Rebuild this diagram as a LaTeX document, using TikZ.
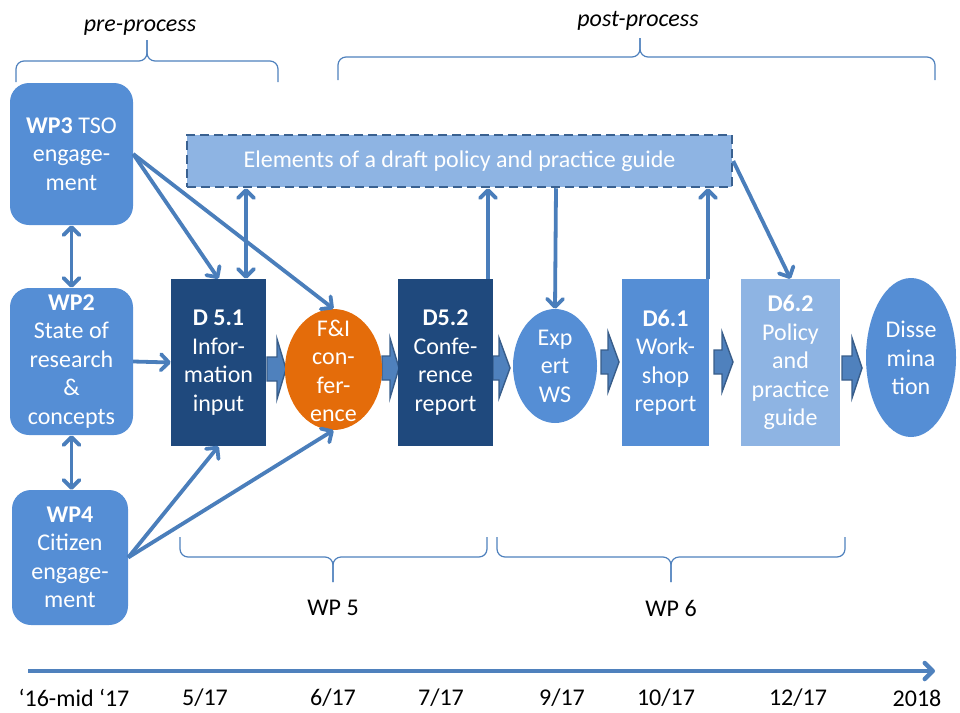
\documentclass[tikz,border=0pt]{standalone}
\usepackage{fontspec}
\setmainfont{Carlito}
\usetikzlibrary{shapes.geometric,arrows.meta,calc}
\definecolor{wpblue}{HTML}{558ED5}
\definecolor{darkblue}{HTML}{1F497D}
\definecolor{lightblue}{HTML}{8EB4E3}
\definecolor{fiorange}{HTML}{E46C0A}
\definecolor{conn}{HTML}{4A7EBB}
\definecolor{barrowfill}{HTML}{4F81BD}
\definecolor{barrowline}{HTML}{385D8A}
\definecolor{dashline}{HTML}{3A6190}
\newcommand\bfs{\fontsize{24}{28.5}\selectfont}
\newcommand\hbr[6]{%
  \draw[bracestyle] (#1,#4) -- (#1,#5) -- (#3,#5) -- (#3,#6);
  \draw[bracestyle] (#3,#6) -- (#3,#5) -- (#2,#5) -- (#2,#4);}
\newcommand\barrow[4]{%
  \filldraw[barrowstyle] (#1,#4-12) -- (#3,#4-12) -- (#3,#4-30) -- (#2,#4) -- (#3,#4+30) -- (#3,#4+12) -- (#1,#4+12) -- cycle;}
\begin{document}
\begin{tikzpicture}[x=1pt,y=-1pt,
  >={Straight Barb[length=8pt,width=16pt,round]},
  bracestyle/.style={draw=barrowfill, line width=1.2, rounded corners=8},
  barrowstyle/.style={fill=barrowfill, draw=barrowline, line width=1.4, line join=miter},
  basebox/.style={inner sep=0pt, text=white, align=center, font=\bfs},
  wpbox/.style={basebox, fill=wpblue, rounded corners=19},
  dbox/.style={basebox, fill=#1},
  ell/.style={ellipse, inner sep=0pt, fill=#1},
  etext/.style={inner sep=0pt, text=white, align=center, font=\bfs},
  conn/.style={draw=conn, line width=3.8},
  lbl/.style={inner sep=0pt, font=\bfs},
  datel/.style={inner sep=0pt, font=\fontsize{24}{28}\selectfont}]
\useasboundingbox (0,0) rectangle (960,712);

% braces and labels
\hbr{16}{278}{147}{82}{61}{40}
\hbr{338}{935}{640}{80}{57}{38}
\hbr{180}{487}{333}{537}{557}{582}
\hbr{497}{845}{671}{537}{557}{582}
\node[lbl] (pre) at (140,28) {\itshape pre-process};
\node[lbl] (post) at (638,21) {\itshape post-process};
\node[lbl] (wp5l) at (333,608) {WP 5};
\node[lbl] (wp6l) at (671,608) {WP 6};

% block arrows
\barrow{267}{286}{277}{369}
\barrow{382}{399}{390}{368}
\barrow{493}{510}{499}{368}
\barrow{601}{619}{608}{362}
\barrow{714}{733}{722}{362}
\barrow{842}{862}{852}{368}

% nodes
\node[wpbox, minimum width=123, minimum height=142] (wp3) at (71.5,154) {\textbf{WP3} TSO\\engage-\\ment};
\node[wpbox, minimum width=123, minimum height=147] (wp2) at (71.5,361.5) {\textbf{WP2}\\State of\\research\\\&\\concepts};
\node[wpbox, minimum width=116, minimum height=135] (wp4) at (70,557.5) {\textbf{WP4}\\Citizen\\engage-\\ment};
\node[basebox, fill=lightblue, draw=dashline, line width=2.5, dash pattern=on 9pt off 5pt, minimum width=545, minimum height=52] (dg) at (459.5,161) {Elements of a draft policy and practice guide};
\node[dbox=darkblue, minimum width=95, minimum height=167] (d51) at (218.5,362.5) {\textbf{D 5.1}\\Infor-\\mation\\input};
\node[ell=fiorange, minimum width=97, minimum height=121] (fi) at (333.5,369.5) {};
\node[etext] (fit) at (333.5,371) {F\&I\\con-\\fer-\\ence};
\node[dbox=darkblue, minimum width=95, minimum height=167] (d52) at (445.5,362.5) {\textbf{D5.2}\\Confe-\\rence\\report};
\node[ell=wpblue, minimum width=84, minimum height=114] (ews) at (555,366) {};
\node[etext] (ewst) at (555,366) {Exp\\ert\\WS};
\node[dbox=wpblue, minimum width=87, minimum height=167] (d61) at (665.5,362.5) {\textbf{D6.1}\\Work-\\shop\\report};
\node[dbox=lightblue, minimum width=99, minimum height=167] (d62) at (790.5,362.5) {\textbf{D6.2}\\Policy\\and\\practice\\guide};
\node[ell=wpblue, minimum width=90, minimum height=159] (dis) at (911,357.5) {};
\node[etext] (dist) at (911,358) {Disse\\mina\\tion};

% connectors
\draw[conn,<->] (wp3.south) -- (wp2.north);
\draw[conn,<->] (wp2.south) -- (wp2.south |- wp4.north);
\draw[conn,->] (wp3.east) -- (d51.north);
\draw[conn,->] (wp3.east) -- (fi.north);
\draw[conn,<->] (dg.south -| 246,0) -- (d51.north -| 246,0);
\draw[conn,->] (wp2.east) -- (d51.west);
\draw[conn,->] (wp4.east) -- (d51.south);
\draw[conn,->] (wp4.east) -- (fi.south);
\draw[conn,->] (d52.north -| 488,0) -- (dg.south -| 488,0);
\draw[conn,->] (dg.south -| 556,0) -- (ews.north);
\draw[conn,->] (d61.north -| 708,0) -- (dg.south -| 708,0);
\draw[conn,->] (dg.east) -- (d62.north);

% timeline
\coordinate (tl0) at (28,671);
\coordinate (tl1) at (935,671);
\draw[draw=barrowfill, line width=4.5, ->] (tl0) -- (tl1);
\node[datel] (t1) at (74,698) {`16-mid `17};
\node[datel] (t2) at (205,698) {5/17};
\node[datel] (t3) at (333,698) {6/17};
\node[datel] (t4) at (441,698) {7/17};
\node[datel] (t5) at (562,698) {9/17};
\node[datel] (t6) at (666,698) {10/17};
\node[datel] (t7) at (798,698) {12/17};
\node[datel] (t8) at (917,698) {2018};
\end{tikzpicture}
\end{document}
